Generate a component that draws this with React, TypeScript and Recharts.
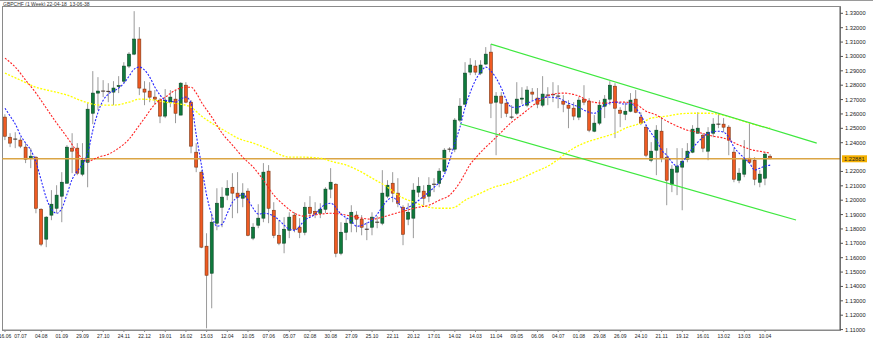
import React from 'react'
import { ComposedChart, Bar, Line, XAxis, YAxis, ReferenceLine } from 'recharts'

// weekly GBPCHF, 16.06.2019 .. 17.04.2022
const tickLabels = ['16.06', '07.07', '04.08', '01.09', '29.09', '27.10', '24.11', '22.12', '19.01', '16.02', '15.03', '12.04', '10.05', '07.06', '05.07', '02.08', '30.08', '27.09', '25.10', '22.11', '20.12', '17.01', '14.02', '14.03', '11.04', '09.05', '06.06', '04.07', '01.08', '29.08', '26.09', '24.10', '21.11', '19.12', '16.01', '13.02', '13.03', '10.04']
const tickBars = [0, 3, 7, 11, 15, 19, 23, 27, 31, 35, 39, 43, 47, 51, 55, 59, 63, 67, 71, 75, 79, 83, 87, 91, 95, 99, 103, 107, 111, 115, 119, 123, 127, 131, 135, 139, 143, 147]

const opens = [1.2578, 1.2438, 1.2421, 1.2418, 1.2369, 1.2292, 1.2299, 1.1937, 1.1729, 1.1896, 1.1944, 1.2028, 1.2118, 1.2362, 1.2362, 1.2181, 1.2264, 1.2605, 1.2745, 1.2759, 1.2757, 1.2752, 1.2790, 1.2828, 1.2933, 1.3016, 1.3121, 1.2773, 1.2759, 1.2717, 1.2696, 1.2585, 1.2682, 1.2703, 1.2592, 1.2800, 1.2682, 1.2334, 1.2195, 1.1680, 1.1492, 1.1840, 1.1951, 1.2035, 1.2090, 1.2049, 1.2014, 1.2063, 1.1736, 1.1826, 1.1875, 1.2202, 1.1930, 1.1756, 1.1701, 1.1791, 1.1896, 1.1812, 1.1777, 1.1951, 1.1923, 1.1909, 1.1937, 1.2077, 1.2111, 1.1631, 1.1777, 1.1840, 1.1896, 1.1868, 1.1798, 1.1812, 1.1847, 1.1840, 1.2028, 1.2118, 1.2049, 1.1951, 1.1868, 1.1875, 1.2056, 1.2063, 1.2028, 1.2111, 1.2118, 1.2202, 1.2355, 1.2355, 1.2557, 1.2668, 1.2891, 1.2933, 1.2884, 1.2947, 1.3030, 1.2682, 1.2724, 1.2675, 1.2578, 1.2605, 1.2703, 1.2661, 1.2752, 1.2710, 1.2661, 1.2731, 1.2731, 1.2724, 1.2689, 1.2661, 1.2640, 1.2578, 1.2703, 1.2689, 1.2480, 1.2536, 1.2654, 1.2703, 1.2793, 1.2626, 1.2598, 1.2619, 1.2703, 1.2578, 1.2508, 1.2278, 1.2348, 1.2480, 1.2299, 1.2111, 1.2195, 1.2230, 1.2285, 1.2334, 1.2466, 1.2452, 1.2341, 1.2466, 1.2529, 1.2529, 1.2508, 1.2334, 1.2139, 1.2181, 1.2292, 1.2278, 1.2125, 1.2153, 1.2306]
const highs = [1.2598, 1.2466, 1.2473, 1.2438, 1.2397, 1.2362, 1.2306, 1.1944, 1.1889, 1.2070, 1.2104, 1.2195, 1.2383, 1.2466, 1.2397, 1.2397, 1.2675, 1.2898, 1.2856, 1.2835, 1.2814, 1.2828, 1.2863, 1.2960, 1.3030, 1.3315, 1.3204, 1.2828, 1.2821, 1.2766, 1.2710, 1.2773, 1.2766, 1.2766, 1.2821, 1.2821, 1.2696, 1.2397, 1.2209, 1.1770, 1.1909, 1.2083, 1.2090, 1.2139, 1.2188, 1.2195, 1.2118, 1.2083, 1.1840, 1.1972, 1.2258, 1.2244, 1.1986, 1.1861, 1.1882, 1.1916, 1.1916, 1.1875, 1.1986, 1.2028, 1.1986, 1.1979, 1.2090, 1.2223, 1.2118, 1.1847, 1.1875, 1.1965, 1.1923, 1.1896, 1.1847, 1.1916, 1.1889, 1.2209, 1.2139, 1.2195, 1.2153, 1.1965, 1.1979, 1.2118, 1.2160, 1.2104, 1.2160, 1.2153, 1.2223, 1.2362, 1.2369, 1.2571, 1.2710, 1.2960, 1.2988, 1.2974, 1.2974, 1.3065, 1.3086, 1.2752, 1.2752, 1.2696, 1.2661, 1.2821, 1.2786, 1.2793, 1.2780, 1.2780, 1.2863, 1.2786, 1.2821, 1.2800, 1.2731, 1.2696, 1.2682, 1.2717, 1.2800, 1.2710, 1.2592, 1.2696, 1.2731, 1.2828, 1.2814, 1.2647, 1.2682, 1.2745, 1.2766, 1.2612, 1.2522, 1.2404, 1.2522, 1.2578, 1.2362, 1.2244, 1.2362, 1.2362, 1.2397, 1.2522, 1.2612, 1.2466, 1.2508, 1.2571, 1.2605, 1.2571, 1.2522, 1.2362, 1.2223, 1.2418, 1.2543, 1.2299, 1.2209, 1.2334, 1.2320]
const lows = [1.2418, 1.2369, 1.2362, 1.2362, 1.2258, 1.2223, 1.1909, 1.1680, 1.1673, 1.1861, 1.1909, 1.1847, 1.2118, 1.2188, 1.2174, 1.2167, 1.2090, 1.2529, 1.2626, 1.2717, 1.2682, 1.2661, 1.2745, 1.2814, 1.2919, 1.3009, 1.2731, 1.2661, 1.2682, 1.2668, 1.2536, 1.2571, 1.2647, 1.2536, 1.2592, 1.2675, 1.2327, 1.2195, 1.1666, 1.1109, 1.1248, 1.1791, 1.1812, 1.2000, 1.1875, 1.1909, 1.1951, 1.1749, 1.1722, 1.1805, 1.1847, 1.1840, 1.1736, 1.1687, 1.1631, 1.1736, 1.1777, 1.1736, 1.1756, 1.1896, 1.1875, 1.1875, 1.1909, 1.2014, 1.1603, 1.1617, 1.1722, 1.1777, 1.1777, 1.1756, 1.1722, 1.1756, 1.1805, 1.1826, 1.2014, 1.1986, 1.1951, 1.1687, 1.1826, 1.1736, 1.2021, 1.1965, 1.1986, 1.2056, 1.2090, 1.2195, 1.2334, 1.2334, 1.2543, 1.2661, 1.2870, 1.2870, 1.2870, 1.2940, 1.2571, 1.2313, 1.2571, 1.2578, 1.2564, 1.2592, 1.2668, 1.2647, 1.2696, 1.2640, 1.2647, 1.2661, 1.2682, 1.2640, 1.2612, 1.2501, 1.2557, 1.2557, 1.2661, 1.2473, 1.2473, 1.2522, 1.2571, 1.2661, 1.2432, 1.2508, 1.2557, 1.2612, 1.2605, 1.2522, 1.2299, 1.2264, 1.2174, 1.2264, 1.1965, 1.2056, 1.2035, 1.1930, 1.2264, 1.2327, 1.2466, 1.2334, 1.2278, 1.2438, 1.2501, 1.2473, 1.2313, 1.2125, 1.2118, 1.2160, 1.2258, 1.2104, 1.2090, 1.2104, 1.2285]
const closes = [1.2445, 1.2397, 1.2425, 1.2376, 1.2285, 1.2306, 1.1944, 1.1694, 1.1882, 1.1972, 1.2035, 1.2125, 1.2369, 1.2341, 1.2188, 1.2278, 1.2633, 1.2745, 1.2759, 1.2755, 1.2753, 1.2780, 1.2797, 1.2933, 1.3016, 1.3121, 1.2780, 1.2752, 1.2717, 1.2703, 1.2585, 1.2696, 1.2717, 1.2605, 1.2814, 1.2682, 1.2376, 1.2230, 1.1673, 1.1478, 1.1847, 1.1979, 1.2021, 1.2083, 1.2049, 1.2021, 1.2049, 1.1756, 1.1812, 1.1875, 1.2195, 1.1944, 1.1756, 1.1701, 1.1798, 1.1882, 1.1798, 1.1777, 1.1951, 1.1909, 1.1903, 1.1937, 1.2077, 1.2125, 1.1631, 1.1777, 1.1840, 1.1916, 1.1868, 1.1812, 1.1795, 1.1882, 1.1845, 1.2049, 1.2104, 1.2049, 1.1979, 1.1763, 1.1916, 1.2070, 1.2097, 1.2014, 1.2104, 1.2108, 1.2202, 1.2348, 1.2352, 1.2557, 1.2654, 1.2884, 1.2940, 1.2891, 1.2940, 1.3016, 1.2675, 1.2724, 1.2675, 1.2605, 1.2574, 1.2703, 1.2710, 1.2766, 1.2738, 1.2668, 1.2738, 1.2728, 1.2734, 1.2721, 1.2668, 1.2640, 1.2585, 1.2696, 1.2682, 1.2487, 1.2536, 1.2661, 1.2703, 1.2800, 1.2640, 1.2605, 1.2619, 1.2696, 1.2612, 1.2536, 1.2313, 1.2341, 1.2487, 1.2292, 1.2139, 1.2216, 1.2237, 1.2271, 1.2341, 1.2494, 1.2501, 1.2362, 1.2473, 1.2529, 1.2526, 1.2508, 1.2418, 1.2146, 1.2188, 1.2285, 1.2264, 1.2146, 1.2181, 1.2320, 1.2288]

// moving averages: [bar, price]
const fastMA = [[0, 1.2640], [1, 1.2585], [2, 1.2529], [3, 1.2452], [4, 1.2397], [5, 1.2348], [6, 1.2264], [7, 1.2139], [8, 1.2014], [9, 1.1937], [10, 1.1909], [11, 1.1944], [12, 1.2042], [13, 1.2146], [14, 1.2202], [15, 1.2251], [16, 1.2327], [17, 1.2487], [18, 1.2612], [19, 1.2696], [20, 1.2738], [22, 1.2780], [23, 1.2814], [24, 1.2863], [25, 1.2912], [26, 1.2926], [27, 1.2905], [28, 1.2856], [29, 1.2786], [30, 1.2731], [31, 1.2696], [32, 1.2689], [33, 1.2682], [34, 1.2703], [35, 1.2717], [36, 1.2675], [37, 1.2452], [38, 1.2244], [39, 1.2035], [40, 1.1896], [41, 1.1819], [42, 1.1833], [43, 1.1909], [44, 1.1986], [45, 1.2021], [46, 1.2042], [47, 1.2000], [48, 1.1944], [49, 1.1903], [50, 1.1909], [52, 1.1889], [53, 1.1861], [54, 1.1826], [55, 1.1798], [56, 1.1791], [58, 1.1861], [60, 1.1903], [62, 1.1972], [63, 1.1979], [65, 1.1903], [67, 1.1854], [68, 1.1819], [70, 1.1840], [71, 1.1861], [72, 1.1903], [74, 1.2000], [75, 1.2021], [76, 1.1986], [77, 1.1937], [79, 1.1972], [81, 1.2028], [82, 1.2056], [83, 1.2090], [84, 1.2125], [85, 1.2181], [86, 1.2278], [87, 1.2397], [88, 1.2508], [89, 1.2647], [90, 1.2752], [91, 1.2835], [92, 1.2891], [93, 1.2926], [94, 1.2898], [95, 1.2849], [96, 1.2780], [97, 1.2696], [98, 1.2647], [99, 1.2647], [101, 1.2675], [103, 1.2703], [105, 1.2717], [107, 1.2710], [109, 1.2675], [111, 1.2647], [112, 1.2626], [114, 1.2605], [115, 1.2626], [116, 1.2661], [118, 1.2682], [120, 1.2668], [121, 1.2675], [122, 1.2640], [123, 1.2592], [124, 1.2522], [125, 1.2466], [126, 1.2418], [127, 1.2348], [128, 1.2313], [129, 1.2264], [130, 1.2237], [131, 1.2264], [132, 1.2313], [133, 1.2362], [134, 1.2404], [135, 1.2438], [136, 1.2466], [138, 1.2480], [139, 1.2473], [140, 1.2438], [141, 1.2369], [142, 1.2327], [143, 1.2292], [144, 1.2258], [145, 1.2209], [146, 1.2223], [147, 1.2237], [148, 1.2244]]
const midMA = [[0, 1.2988], [2, 1.2926], [4, 1.2835], [6, 1.2745], [8, 1.2640], [10, 1.2536], [12, 1.2438], [14, 1.2334], [15, 1.2285], [16, 1.2271], [18, 1.2299], [20, 1.2320], [22, 1.2362], [24, 1.2425], [26, 1.2522], [27, 1.2571], [29, 1.2668], [31, 1.2717], [33, 1.2766], [35, 1.2786], [36, 1.2786], [37, 1.2745], [38, 1.2682], [40, 1.2578], [42, 1.2466], [44, 1.2383], [46, 1.2299], [48, 1.2230], [50, 1.2139], [52, 1.2035], [54, 1.1965], [56, 1.1909], [58, 1.1889], [61, 1.1903], [63, 1.1909], [65, 1.1903], [67, 1.1889], [69, 1.1875], [71, 1.1868], [73, 1.1882], [75, 1.1903], [77, 1.1923], [80, 1.1951], [82, 1.1965], [84, 1.2000], [86, 1.2035], [88, 1.2125], [89, 1.2188], [90, 1.2251], [91, 1.2292], [92, 1.2334], [93, 1.2369], [95, 1.2438], [98, 1.2543], [100, 1.2598], [103, 1.2682], [106, 1.2738], [108, 1.2745], [111, 1.2724], [113, 1.2689], [116, 1.2675], [118, 1.2682], [120, 1.2682], [122, 1.2668], [124, 1.2619], [126, 1.2592], [128, 1.2550], [130, 1.2515], [132, 1.2487], [134, 1.2473], [137, 1.2445], [139, 1.2432], [142, 1.2383], [144, 1.2355], [147, 1.2334], [148, 1.2327]]
const slowMA = [[0, 1.2884], [3, 1.2835], [6, 1.2786], [9, 1.2759], [12, 1.2731], [15, 1.2689], [17, 1.2668], [19, 1.2661], [21, 1.2661], [24, 1.2682], [26, 1.2703], [29, 1.2696], [31, 1.2682], [34, 1.2668], [36, 1.2647], [38, 1.2585], [40, 1.2536], [43, 1.2473], [45, 1.2432], [48, 1.2397], [51, 1.2355], [53, 1.2320], [55, 1.2299], [58, 1.2299], [61, 1.2292], [63, 1.2271], [66, 1.2244], [69, 1.2195], [71, 1.2153], [74, 1.2090], [76, 1.2035], [79, 1.1986], [82, 1.1951], [84, 1.1944], [86, 1.1944], [87, 1.1951], [89, 1.2000], [92, 1.2049], [94, 1.2083], [98, 1.2125], [102, 1.2188], [106, 1.2258], [108, 1.2313], [110, 1.2362], [112, 1.2397], [115, 1.2432], [118, 1.2466], [120, 1.2501], [123, 1.2536], [125, 1.2571], [128, 1.2585], [130, 1.2598], [133, 1.2605], [136, 1.2605], [138, 1.2598], [141, 1.2571], [144, 1.2536], [147, 1.2508], [148, 1.2501]]

// trend channel drawn on the chart: [bar, price]
const channelUpper = [[94, 1.3086], [157, 1.2397]]
const channelLower = [[88, 1.2532], [153, 1.1862]]

const levelPrice = 1.22881
const priceTicks = [1.11, 1.12, 1.13, 1.14, 1.15, 1.16, 1.17, 1.18, 1.19, 1.20, 1.21, 1.22, 1.24, 1.25, 1.26, 1.27, 1.28, 1.29, 1.30, 1.31, 1.32, 1.33]

const SLOTS = 162 // bars plus empty space on the right

const data: any[] = Array.from({ length: SLOTS }, (_, i) => {
  const row: any = { i }
  if (i < opens.length) {
    row.open = opens[i]
    row.high = highs[i]
    row.low = lows[i]
    row.close = closes[i]
    row.range = [lows[i], highs[i]]
  }
  return row
})
fastMA.forEach(([i, v]) => (data[i].fast = v))
midMA.forEach(([i, v]) => (data[i].mid = v))
slowMA.forEach(([i, v]) => (data[i].slow = v))
channelUpper.forEach(([i, v]) => (data[i].chanUp = v))
channelLower.forEach(([i, v]) => (data[i].chanDn = v))

const labelOf: Record<number, string> = {}
tickBars.forEach((b, k) => (labelOf[b] = tickLabels[k]))

const font = '"Liberation Sans", Arial, sans-serif'

function Candle(props: any) {
  const { x, y, width, height, payload } = props
  if (!payload || payload.open == null) return null
  const { open, close, high, low } = payload
  const top = Math.min(y, y + height)
  const h = Math.abs(height)
  const py = (v: number) => (high === low ? top : top + ((high - v) / (high - low)) * h)
  const cx = x + width / 2
  const up = close >= open
  const y1 = py(Math.max(open, close))
  const y2 = py(Math.min(open, close))
  return (
    <g>
      <line x1={cx} x2={cx} y1={top} y2={top + h} stroke="#9a9a9a" strokeWidth={1} />
      {y2 - y1 < 0.9 ? (
        <line x1={x - 0.5} x2={x + width + 0.5} y1={y1} y2={y1} stroke="#3a2a20" strokeWidth={1} />
      ) : (
        <rect
          x={x}
          y={y1}
          width={width}
          height={y2 - y1}
          fill={up ? '#0f7a3c' : '#ef5a22'}
          stroke={up ? '#0a4424' : '#7a3412'}
          strokeWidth={0.6}
        />
      )}
    </g>
  )
}

function LevelLabel(props: any) {
  const vb = props.viewBox || {}
  const x = (vb.x || 0) + (vb.width || 0)
  const y = vb.y || 0
  return (
    <g>
      <rect x={x + 2} y={y - 3.5} width={25} height={7} fill="#f5b000" />
      <text x={x + 4} y={y + 2} fontSize={5.7} fill="#222" fontFamily={font}>
        {levelPrice.toFixed(5)}
      </text>
    </g>
  )
}

export default function App() {
  return (
    <div style={{ position: 'relative', width: 873, height: 351, background: '#fff', fontFamily: font }}>
      <style>{'body{margin:0}'}</style>
      <div style={{ position: 'absolute', left: 0, top: 0, width: 873, borderTop: '1px solid #9a9a9a' }} />
      <div style={{ position: 'absolute', left: 3, top: 1, fontSize: 5, lineHeight: '6px', color: '#333', whiteSpace: 'nowrap' }}>
        GBPCHF (1 Week) 22-04-18_13-06-38
      </div>
      <div
        style={{
          position: 'absolute',
          left: 2,
          top: 6,
          width: 839,
          height: 325,
          border: '1px solid #8a8a8a',
          boxSizing: 'border-box',
        }}
      />
      <ComposedChart width={873} height={351} data={data} margin={{ top: 7, right: 0, bottom: 0, left: 2.4 }}>
        <XAxis
          dataKey="i"
          type="category"
          ticks={tickBars}
          interval={0}
          tickFormatter={(v: number) => labelOf[v] || ''}
          tick={{ fontSize: 5, fill: '#222', fontFamily: font }}
          tickSize={2}
          tickMargin={2.5}
          axisLine={{ stroke: '#8a8a8a' }}
          tickLine={{ stroke: '#8a8a8a' }}
          height={21}
        />
        <YAxis
          orientation="right"
          type="number"
          domain={[1.1097, 1.3344]}
          allowDataOverflow
          ticks={priceTicks}
          interval={0}
          tickFormatter={(v: number) => v.toFixed(5)}
          tick={{ fontSize: 5.7, fill: '#222', fontFamily: font }}
          tickSize={3}
          tickMargin={2}
          axisLine={{ stroke: '#555' }}
          tickLine={{ stroke: '#555' }}
          width={33}
        />
        <ReferenceLine y={levelPrice} stroke="#dba545" strokeWidth={1.6} label={<LevelLabel />} />
        <Bar dataKey="range" barSize={3} shape={<Candle />} isAnimationActive={false} />
        <Line dataKey="slow" type="monotone" stroke="#ffff00" strokeWidth={1.3} strokeDasharray="2 1.5" dot={false} connectNulls isAnimationActive={false} />
        <Line dataKey="mid" type="monotone" stroke="#ff2222" strokeWidth={1.1} strokeDasharray="2 1.5" dot={false} connectNulls isAnimationActive={false} />
        <Line dataKey="fast" type="monotone" stroke="#2828ff" strokeWidth={1.1} strokeDasharray="2 1.5" dot={false} connectNulls isAnimationActive={false} />
        <Line dataKey="chanUp" type="linear" stroke="#3ee83e" strokeWidth={1.2} dot={false} connectNulls isAnimationActive={false} />
        <Line dataKey="chanDn" type="linear" stroke="#3ee83e" strokeWidth={1.2} dot={false} connectNulls isAnimationActive={false} />
      </ComposedChart>
    </div>
  )
}
